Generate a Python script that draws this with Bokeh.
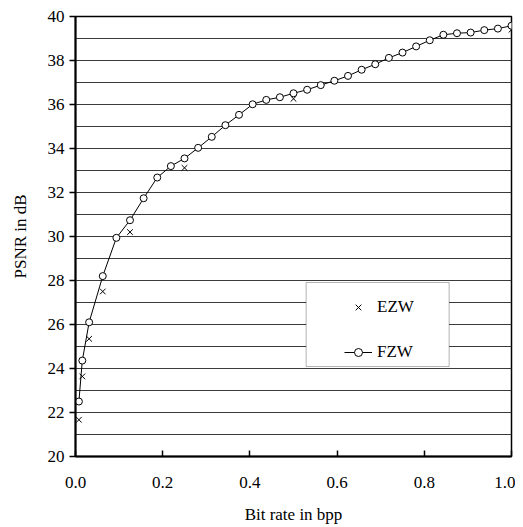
from bokeh.plotting import figure
from bokeh.models import (Range1d, SingleIntervalTicker, FixedTicker, Legend, LegendItem,
                          BoxAnnotation, CustomJSTickFormatter)
from bokeh.embed import file_html
from bokeh.resources import INLINE

# ---- data ----
fzw_rate = [0.0078, 0.0156, 0.03125, 0.0625, 0.09375, 0.125, 0.15625, 0.1875, 0.21875, 0.25,
            0.28125, 0.3125, 0.34375, 0.375, 0.40625, 0.4375, 0.46875, 0.5, 0.53125, 0.5625,
            0.59375, 0.625, 0.65625, 0.6875, 0.71875, 0.75, 0.78125, 0.8125, 0.84375, 0.875,
            0.90625, 0.9375, 0.96875, 1.0]
fzw_psnr = [22.5, 24.36, 26.1, 28.2, 29.94, 30.74, 31.74, 32.68, 33.2, 33.55,
            34.03, 34.53, 35.06, 35.53, 36.01, 36.21, 36.33, 36.51, 36.67, 36.88,
            37.08, 37.3, 37.58, 37.83, 38.12, 38.36, 38.64, 38.92, 39.17, 39.24,
            39.27, 39.38, 39.45, 39.58]
ezw_rate = [0.0078, 0.0156, 0.03125, 0.0625, 0.125, 0.25, 0.5, 1.0]
ezw_psnr = [21.67, 23.64, 25.35, 27.5, 30.2, 33.12, 36.26, 39.4]
x_ticks = [0.0, 0.2, 0.4, 0.6, 0.8, 1.0]
y_ticks = [20, 22, 24, 26, 28, 30, 32, 34, 36, 38, 40]

FONT = "'Liberation Serif', 'Times New Roman', serif"

p = figure(width=515, height=527, output_backend="svg", toolbar_location=None,
           x_range=Range1d(0, 1.0), y_range=Range1d(20, 40),
           min_border_left=75, min_border_right=4, min_border_top=16, min_border_bottom=71,
           background_fill_color="white", border_fill_color="white")

p.outline_line_color = "black"
p.outline_line_width = 1.5

# grid
p.xgrid.visible = False
p.ygrid.ticker = SingleIntervalTicker(interval=1)
p.ygrid.grid_line_color = "#3a3a3a"
p.ygrid.grid_line_width = 1

# axes
p.xaxis.ticker = FixedTicker(ticks=x_ticks)
p.xaxis.formatter = CustomJSTickFormatter(code="return tick.toFixed(1);")
p.xaxis.major_tick_in = 6
p.xaxis.major_tick_out = 0
p.xaxis.minor_tick_line_color = None
p.xaxis.major_label_standoff = 20
p.xaxis.axis_label = "Bit rate in bpp"
p.xaxis.axis_label_standoff = 14

p.yaxis.ticker = FixedTicker(ticks=y_ticks)
p.yaxis.major_tick_in = 0
p.yaxis.major_tick_out = 6
p.yaxis.minor_tick_line_color = None
p.yaxis.major_label_standoff = 5
p.yaxis.axis_label = "PSNR in dB"
p.yaxis.axis_label_standoff = 15

for ax in (p.xaxis[0], p.yaxis[0]):
    ax.axis_line_color = "black"
    ax.axis_line_width = 2
    ax.major_tick_line_color = "black"
    ax.major_tick_line_width = 1.5
    ax.major_label_text_font = FONT
    ax.major_label_text_font_size = "17px"
    ax.major_label_text_color = "black"
    ax.axis_label_text_font = FONT
    ax.axis_label_text_font_size = "17px"
    ax.axis_label_text_font_style = "normal"
    ax.axis_label_text_color = "black"

# series
ezw_r = p.scatter(ezw_rate, ezw_psnr, marker="x", size=8, line_color="black", line_width=1)
fzw_line = p.line(fzw_rate, fzw_psnr, line_color="black", line_width=1)
fzw_pts = p.scatter(fzw_rate, fzw_psnr, marker="circle", size=7, line_color="black",
                    line_width=1, fill_color="white")

# legend frame
box = BoxAnnotation(left=0.529, right=0.857, bottom=24.09, top=27.91,
                    fill_color="white", fill_alpha=1.0, line_color="black", line_width=1)
p.add_layout(box)

legend = Legend(items=[LegendItem(label="EZW", renderers=[ezw_r]),
                       LegendItem(label="FZW", renderers=[fzw_line, fzw_pts])],
                location=(269, 94), padding=0, spacing=25, glyph_width=28, glyph_height=20,
                label_height=20, label_standoff=5, background_fill_alpha=0,
                border_line_alpha=0, label_text_font=FONT, label_text_font_size="17px",
                label_text_color="black")
p.add_layout(legend, "center")

open("out.html", "w").write(file_html(p, INLINE))
